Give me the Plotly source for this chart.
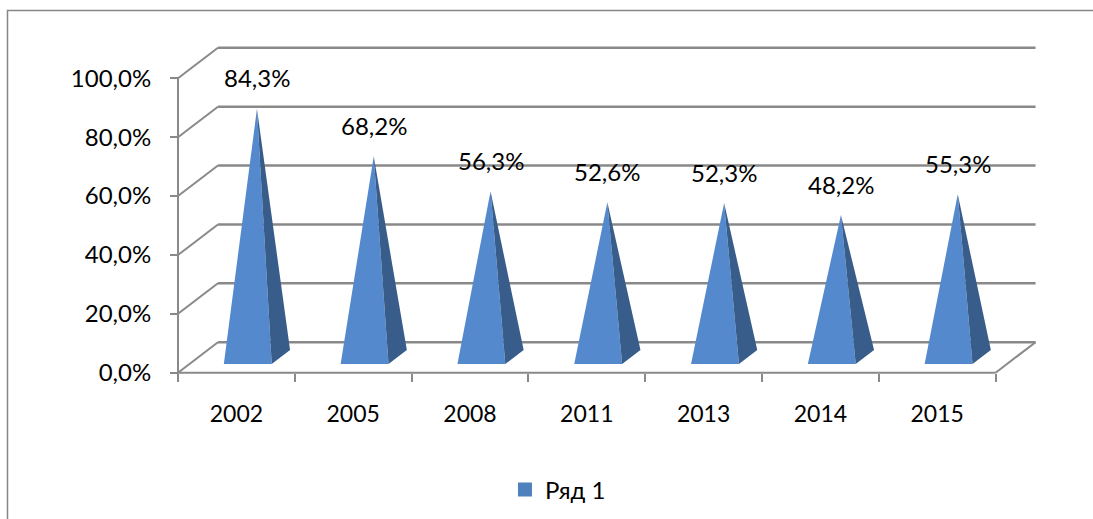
import plotly.graph_objects as go

# --- chart data -------------------------------------------------------------
years = ["2002", "2005", "2008", "2011", "2013", "2014", "2015"]
shares = [84.3, 68.2, 56.3, 52.6, 52.3, 48.2, 55.3]
y_ticks = [0, 20, 40, 60, 80, 100]
y_tick_labels = ["0,0%", "20,0%", "40,0%", "60,0%", "80,0%", "100,0%"]
series_name = "Ряд 1"

# --- oblique 3D projection (data units) -------------------------------------
DEPTH_X = 0.342      # horizontal shift of the back wall, in category units
DEPTH_Y = 10.36      # vertical shift of the back wall, in % units
HALF_W = 0.205       # half width of a pyramid base, in category units
D_FRONT, D_BACK = 0.285, 0.744   # depth span of each pyramid base
D_MID = (D_FRONT + D_BACK) / 2

FRONT_COLOR = "#5589CD"
SIDE_COLOR = "#385D8A"
LEGEND_COLOR = "#4F81BD"
GRID_COLOR = "#898989"
FONT = "Lato"

n = len(years)


def depth(x, y, d):
    return x + d * DEPTH_X, y + d * DEPTH_Y


fig = go.Figure()

# back wall gridlines and the left wall diagonals
hx, hy, dx, dy = [], [], [], []
for v in y_ticks:
    bx0, by0 = depth(0, v, 1)
    bx1, by1 = depth(n, v, 1)
    hx += [bx0, bx1, None]
    hy += [by0, by1, None]
    dx += [0, bx0, None]
    dy += [v, by0, None]
# floor right edge, front floor edge and the front value axis
fx, fy = depth(n, 0, 1)
dx += [n, fx, None, 0, n, None, 0, 0, None]
dy += [0, fy, None, 0, 0, None, 0, y_ticks[-1], None]

fig.add_trace(go.Scatter(x=hx, y=hy, mode="lines", hoverinfo="skip",
                         line=dict(color=GRID_COLOR, width=2.6), showlegend=False))
fig.add_trace(go.Scatter(x=dx, y=dy, mode="lines", hoverinfo="skip",
                         line=dict(color=GRID_COLOR, width=2), showlegend=False))

# pyramids: front face and right face
front_x, front_y, side_x, side_y = [], [], [], []
for i, v in enumerate(shares):
    c = i + 0.5
    lx, ly = depth(c - HALF_W, 0, D_FRONT)
    rx, ry = depth(c + HALF_W, 0, D_FRONT)
    bx, by = depth(c + HALF_W, 0, D_BACK)
    ax, ay = depth(c, v, D_MID)
    front_x += [lx, rx, ax, lx, None]
    front_y += [ly, ry, ay, ly, None]
    side_x += [rx, bx, ax, rx, None]
    side_y += [ry, by, ay, ry, None]

fig.add_trace(go.Scatter(x=front_x, y=front_y, mode="lines", fill="toself",
                         fillcolor=FRONT_COLOR, line=dict(width=0, color=FRONT_COLOR),
                         hoverinfo="skip", showlegend=False))
fig.add_trace(go.Scatter(x=side_x, y=side_y, mode="lines", fill="toself",
                         fillcolor=SIDE_COLOR, line=dict(width=0, color=SIDE_COLOR),
                         hoverinfo="skip", showlegend=False))

# legend entry
fig.add_trace(go.Scatter(x=[None], y=[None], mode="markers", name=series_name,
                         marker=dict(symbol="square", size=14, color=LEGEND_COLOR),
                         showlegend=True))

# value labels above each apex
for i, v in enumerate(shares):
    ax, ay = depth(i + 0.5, v, D_MID)
    fig.add_annotation(x=ax, y=ay, xref="x", yref="y", showarrow=False,
                       text=f"{v:.1f}%".replace(".", ","), yshift=31,
                       font=dict(family=FONT, size=24, color="black"))

W, H = 1093, 519
PX_X, X0 = 116.8, 178.0     # pixels per category, front axis position
PX_Y, Y0 = 2.944, 372.7     # pixels per percent, front floor position

fig.update_layout(
    width=W, height=H,
    margin=dict(l=0, r=0, t=0, b=0),
    paper_bgcolor="white", plot_bgcolor="white",
    font=dict(family=FONT, size=24, color="black"),
    xaxis=dict(
        range=[-X0 / PX_X, (W - X0) / PX_X],
        anchor="free", position=(H - Y0) / H,
        tickmode="array", tickvals=[i + 0.5 for i in range(n)], ticktext=years,
        ticks="", ticklabelstandoff=25, tickfont=dict(family=FONT, size=23),
        minor=dict(tickmode="array", tickvals=list(range(n + 1)), ticks="outside",
                   ticklen=8, tickwidth=2, tickcolor=GRID_COLOR, showgrid=False),
        showgrid=False, zeroline=False, showline=False, fixedrange=True,
    ),
    yaxis=dict(
        range=[-(H - Y0) / PX_Y, Y0 / PX_Y],
        anchor="free", position=X0 / W, side="left",
        tickmode="array", tickvals=y_ticks, ticktext=y_tick_labels,
        ticks="outside", ticklen=8, tickwidth=2, tickcolor=GRID_COLOR,
        ticklabelstandoff=14, tickfont=dict(family=FONT, size=24),
        showgrid=False, zeroline=False, showline=False, fixedrange=True,
    ),
    legend=dict(orientation="h", x=0.462, xanchor="left", y=1 - 490 / H,
                yanchor="middle", font=dict(family=FONT, size=24),
                bgcolor="rgba(0,0,0,0)"),
    shapes=[dict(type="rect", xref="paper", yref="paper",
                 x0=7.5 / W, x1=1.05, y0=-0.05, y1=1 - 10.5 / H,
                 line=dict(color="#868686", width=1.5))],
)

fig.write_html("out.html")
